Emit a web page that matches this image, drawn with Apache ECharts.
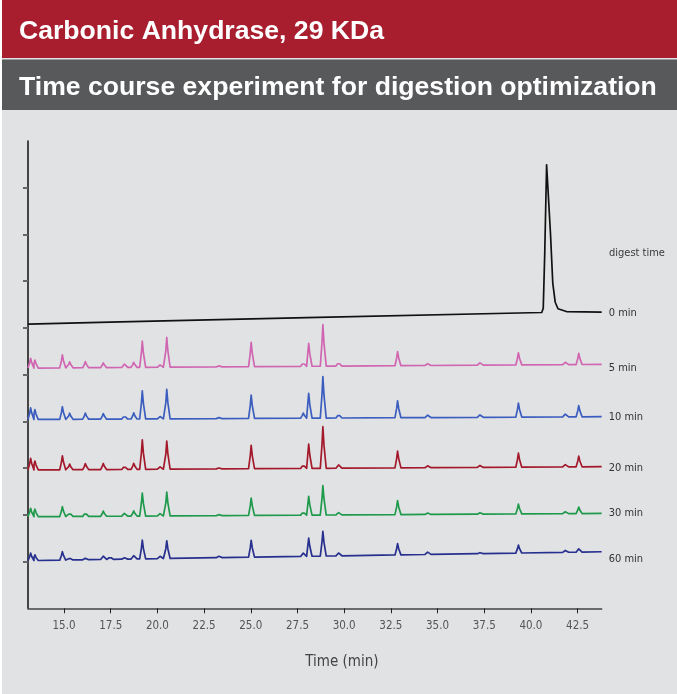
<!DOCTYPE html>
<html>
<head>
<meta charset="utf-8">
<script src="https://cdn.jsdelivr.net/npm/echarts@6/dist/echarts.min.js"></script>
<style>
  html, body { margin: 0; padding: 0; background: #ffffff; }
  #chart { width: 677px; height: 694px; }
</style>
</head>
<body>
<div id="chart"></div>
<script>
// retention times (min) of the peptide peaks
const peakTimes = [13.21, 13.44, 14.91, 15.30, 16.14, 17.10, 17.46, 18.23, 18.73, 19.19, 20.14, 20.50,
  23.29, 25.02, 27.81, 28.10, 28.86, 29.70, 32.86, 34.47, 37.27, 39.33, 41.84, 42.56];

// peak heights above baseline for each digest time
const heights5 = [0.21, 0.17, 0.28, 0.13, 0.13, 0.10, 0, 0.07, 0.11, 0.56, 0.05, 0.64,
  0.02, 0.52, 0.09, 0.49, 0.89, 0.09, 0.30, 0.04, 0.05, 0.26, 0.05, 0.24];
const heights10 = [0.25, 0.21, 0.27, 0.13, 0.13, 0.12, 0, 0.08, 0.13, 0.60, 0.05, 0.63,
  0.02, 0.50, 0.11, 0.53, 0.89, 0.09, 0.36, 0.05, 0.05, 0.30, 0.06, 0.24];
const heights20 = [0.25, 0.19, 0.30, 0.12, 0.13, 0.13, 0, 0.08, 0.13, 0.63, 0.05, 0.60,
  0.02, 0.50, 0.09, 0.52, 0.89, 0.07, 0.36, 0.04, 0.04, 0.30, 0.05, 0.23];
const heights30 = [0.18, 0.16, 0.21, 0.09, 0.09, 0.11, 0, 0.06, 0.11, 0.49, 0.05, 0.51,
  0.02, 0.37, 0.08, 0.40, 0.63, 0.05, 0.30, 0.03, 0.03, 0.21, 0.04, 0.14];
const heights60 = [0.16, 0.12, 0.18, 0.05, 0.03, 0.07, 0.06, 0.03, 0.07, 0.40, 0.05, 0.38,
  0.03, 0.36, 0.07, 0.39, 0.53, 0.06, 0.24, 0.05, 0.02, 0.17, 0.04, 0.07];

// baseline level [start, end] of each stacked trace
const base5 = [5.14, 5.22];
const base10 = [4.04, 4.10];
const base20 = [2.96, 3.03];
const base30 = [1.96, 2.03];
const base60 = [1.02, 1.21];

// undigested protein (0 min) trace
const trace0 = [[13.07, 6.08], [18.0, 6.13], [28.0, 6.22], [40.58, 6.33], [40.66, 6.42], [40.74, 7.6],
  [40.84, 9.49], [40.90, 9.47], [41.05, 8.0], [41.17, 6.96], [41.30, 6.55], [41.45, 6.41], [41.90, 6.35], [43.79, 6.34]];

const timeTicks = [15, 17.5, 20, 22.5, 25, 27.5, 30, 32.5, 35, 37.5, 40, 42.5];
const labels = ["0 min", "5 min", "10 min", "20 min", "30 min", "60 min"];
const colors = ["#111111", "#d066b2", "#3b5dbf", "#a3192b", "#1f9a4c", "#27308e"];

const xMin = 13.07, xMax = 43.79;
const narrow = "'DejaVu Sans Condensed', 'Liberation Sans Narrow', 'Liberation Sans', sans-serif";

function buildTrace(heights, base) {
  const slope = (base[1] - base[0]) / (xMax - xMin);
  const level = t => base[0] + slope * (t - xMin);
  const pts = [[xMin, base[0]]];
  peakTimes.forEach((t, i) => {
    const h = heights[i];
    if (!h) return;
    const left = t - 0.14;
    if (left > pts[pts.length - 1][0]) pts.push([left, level(left)]);
    pts.push([t - 0.05, level(t) + h * 0.55]);
    pts.push([t, level(t) + h]);
    pts.push([t + 0.06, level(t) + h * 0.55]);
    pts.push([t + 0.18, level(t + 0.18)]);
  });
  pts.push([xMax, base[1]]);
  return pts;
}

const traces = [
  trace0,
  buildTrace(heights5, base5),
  buildTrace(heights10, base10),
  buildTrace(heights20, base20),
  buildTrace(heights30, base30),
  buildTrace(heights60, base60)
];
const labelOffsets = [[0, 1], [0, 4], [0, 0], [0, 1], [0, 0], [0, 7]];

const chart = echarts.init(document.getElementById("chart"));

const option = {
  animation: false,
  backgroundColor: "#e1e2e3",
  graphic: [
    { type: "rect", shape: { x: 0, y: 0, width: 677, height: 58 }, style: { fill: "#a91e2f" } },
    { type: "rect", shape: { x: 0, y: 59.5, width: 677, height: 50.5 }, style: { fill: "#58595b" } },
    { type: "rect", shape: { x: 0, y: 0, width: 2, height: 694 }, style: { fill: "#ffffff" } },
    {
      type: "text", left: 19, top: 18,
      style: { text: "Carbonic Anhydrase, 29 KDa", fill: "#ffffff", font: "bold 26.6px 'Liberation Sans', Arial, sans-serif" }
    },
    {
      type: "text", left: 19, top: 74,
      style: { text: "Time course experiment for digestion optimization", fill: "#ffffff", font: "bold 26.6px 'Liberation Sans', Arial, sans-serif" }
    },
    {
      type: "text", left: 609, top: 248,
      style: { text: "digest time", fill: "#3a3a3a", font: "11px " + narrow }
    }
  ],
  grid: { left: 28, right: 75.3, top: 141, bottom: 85.7 },
  xAxis: {
    type: "value",
    min: xMin,
    max: xMax,
    name: "Time (min)",
    nameLocation: "middle",
    nameGap: 46,
    nameTextStyle: { fontFamily: narrow, fontSize: 15, color: "#444444", padding: [0, 0, 0, 54] },
    splitLine: { show: false },
    axisLine: { onZero: false, lineStyle: { color: "#444444", width: 1.5 } },
    axisTick: { customValues: timeTicks, length: 5, lineStyle: { color: "#222222", width: 1 } },
    axisLabel: {
      customValues: timeTicks,
      margin: 12,
      fontFamily: narrow,
      fontSize: 11.5,
      color: "#555555",
      formatter: v => v.toFixed(1)
    }
  },
  yAxis: {
    type: "value",
    min: 0,
    max: 10,
    interval: 1,
    splitLine: { show: false },
    axisLine: { show: true, lineStyle: { color: "#111111", width: 1.5 } },
    axisTick: { show: true, customValues: [1, 2, 3, 4, 5, 6, 7, 8, 9], length: 5, lineStyle: { color: "#666666", width: 2 } },
    axisLabel: { show: false }
  },
  series: traces.map((data, i) => ({
    name: labels[i],
    type: "line",
    data: data,
    showSymbol: false,
    symbol: "none",
    smooth: false,
    lineStyle: { color: colors[i], width: 1.7, join: "round" },
    itemStyle: { color: colors[i] },
    endLabel: {
      show: true,
      formatter: labels[i],
      distance: 7,
      offset: labelOffsets[i],
      color: "#333333",
      fontFamily: narrow,
      fontSize: 11
    }
  }))
};

chart.setOption(option);
</script>
</body>
</html>
